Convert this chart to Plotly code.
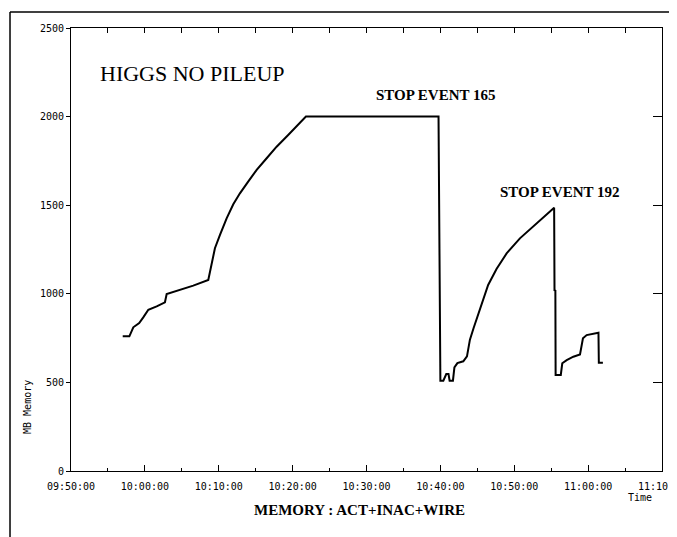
import plotly.graph_objects as go

DAY = "2000-01-01 "

times = [
    "09:57:00", "09:57:54", "09:58:26", "09:59:14", "09:59:47", "10:00:28",
    "10:01:36", "10:02:43", "10:02:57", "10:04:45", "10:06:33", "10:08:35",
    "10:09:02", "10:09:29", "10:10:10", "10:11:04", "10:11:58", "10:12:52",
    "10:13:59", "10:15:08", "10:16:29", "10:17:50", "10:19:24", "10:20:46",
    "10:21:48", "10:39:45", "10:39:50", "10:39:58", "10:40:00", "10:40:24",
    "10:40:48", "10:41:06", "10:41:15", "10:41:42", "10:41:54", "10:42:18",
    "10:43:06", "10:43:36", "10:44:00", "10:44:30", "10:45:12", "10:45:42",
    "10:46:28", "10:47:36", "10:48:58", "10:50:46", "10:52:34", "10:54:22",
    "10:55:24", "10:55:27", "10:55:34", "10:55:36", "10:56:18",
    "10:56:30", "10:57:06", "10:58:00", "10:58:54", "10:59:18", "10:59:48",
    "11:01:24", "11:01:27", "11:02:00",
]
memory_mb = [
    760, 760, 811, 835, 867, 910,
    929, 952, 999, 1023, 1046, 1078,
    1163, 1257, 1332, 1426, 1505, 1567,
    1633, 1699, 1765, 1830, 1896, 1953,
    2000, 2000, 1630, 890, 510, 510,
    547, 547, 510, 510, 585, 609,
    619, 647, 741, 807, 892, 955,
    1050, 1140, 1228, 1313, 1379, 1445,
    1486, 1020, 1018, 542, 542,
    608, 626, 645, 658, 749, 767,
    780, 611, 611,
]

y_ticks = [0, 500, 1000, 1500, 2000, 2500]
x_range = ["09:50:00", "11:10:00"]

title_text = "HIGGS NO PILEUP"
stop_labels = [("STOP EVENT 165", "10:39:22", 2122), ("STOP EVENT 192", "10:56:08", 1574)]
x_title = "MEMORY : ACT+INAC+WIRE"
y_title = "MB Memory"
x_unit = "Time"

fig = go.Figure()
fig.add_trace(go.Scatter(
    x=[DAY + t for t in times], y=memory_mb, mode="lines",
    line=dict(color="black", width=2), showlegend=False, hoverinfo="skip"))
fig.add_trace(go.Scatter(
    x=[DAY + x_range[0]], y=[0], xaxis="x2", yaxis="y2", mode="markers",
    marker=dict(opacity=0), showlegend=False, hoverinfo="skip"))

tickfont = dict(family="DejaVu Sans Mono", size=10, color="black")
xr = [DAY + x_range[0], DAY + x_range[1]]

fig.update_layout(
    width=669, height=529,
    margin=dict(l=63, r=15, t=20, b=66),
    paper_bgcolor="white", plot_bgcolor="white",
    xaxis=dict(type="date", range=xr, dtick=600000, tickformat="%H:%M:%S",
               ticks="inside", ticklen=6, tickcolor="black", tickwidth=1,
               minor=dict(dtick=300000, ticks="inside", ticklen=3, tickcolor="black"),
               showline=True, linecolor="black", linewidth=1.3, showgrid=False,
               zeroline=False, tickfont=tickfont, automargin=False, ticklabelstandoff=6,
               ticklabeloverflow="allow"),
    xaxis2=dict(type="date", range=xr, dtick=300000, overlaying="x", side="top",
                ticks="inside", ticklen=5, tickcolor="black", showticklabels=False,
                showline=True, linecolor="black", linewidth=1, showgrid=False,
                zeroline=False, automargin=False),
    yaxis=dict(range=[0, 2500], tickvals=y_ticks, ticks="outside", ticklen=4,
               tickcolor="black", showline=True, linecolor="black", linewidth=1,
               showgrid=False, zeroline=False, tickfont=tickfont, automargin=False),
    yaxis2=dict(range=[0, 2500], tickvals=y_ticks, overlaying="y", side="right",
                ticks="inside", ticklen=9, tickcolor="black", showticklabels=False,
                showline=True, linecolor="black", linewidth=1, showgrid=False,
                zeroline=False, automargin=False),
)

fig.add_annotation(x=DAY + "10:06:30", y=2246, xref="x", yref="y", text=title_text,
                   xanchor="center", yanchor="middle", showarrow=False,
                   font=dict(family="Liberation Serif", size=22, color="black"))
for txt, t, v in stop_labels:
    fig.add_annotation(x=DAY + t, y=v, xref="x", yref="y", text="<b>" + txt + "</b>",
                       xanchor="center", yanchor="middle", showarrow=False,
                       font=dict(family="Liberation Serif", size=15, color="black"))
fig.add_annotation(x=0.489, y=-0.088, xref="paper", yref="paper", text="<b>" + x_title + "</b>",
                   xanchor="center", yanchor="middle", showarrow=False,
                   font=dict(family="Liberation Serif", size=15, color="black"))
fig.add_annotation(x=0.963, y=-0.0587, xref="paper", yref="paper", text=x_unit,
                   xanchor="center", yanchor="middle", showarrow=False,
                   font=dict(family="DejaVu Sans Mono", size=10, color="black"))
fig.add_annotation(x=-0.0728, y=0.1445, xref="paper", yref="paper", text=y_title, textangle=-90,
                   xanchor="center", yanchor="middle", showarrow=False,
                   font=dict(family="DejaVu Sans Mono", size=10, color="black"))

# outer frame (left and top edges)
fig.add_shape(type="line", xref="paper", yref="paper", x0=-0.1032, x1=-0.1032, y0=1.036, y1=-0.2,
              line=dict(color="black", width=1.5))
fig.add_shape(type="line", xref="paper", yref="paper", x0=-0.1032, x1=1.1, y0=1.036, y1=1.036,
              line=dict(color="black", width=1.5))

fig.write_html("out.html")
